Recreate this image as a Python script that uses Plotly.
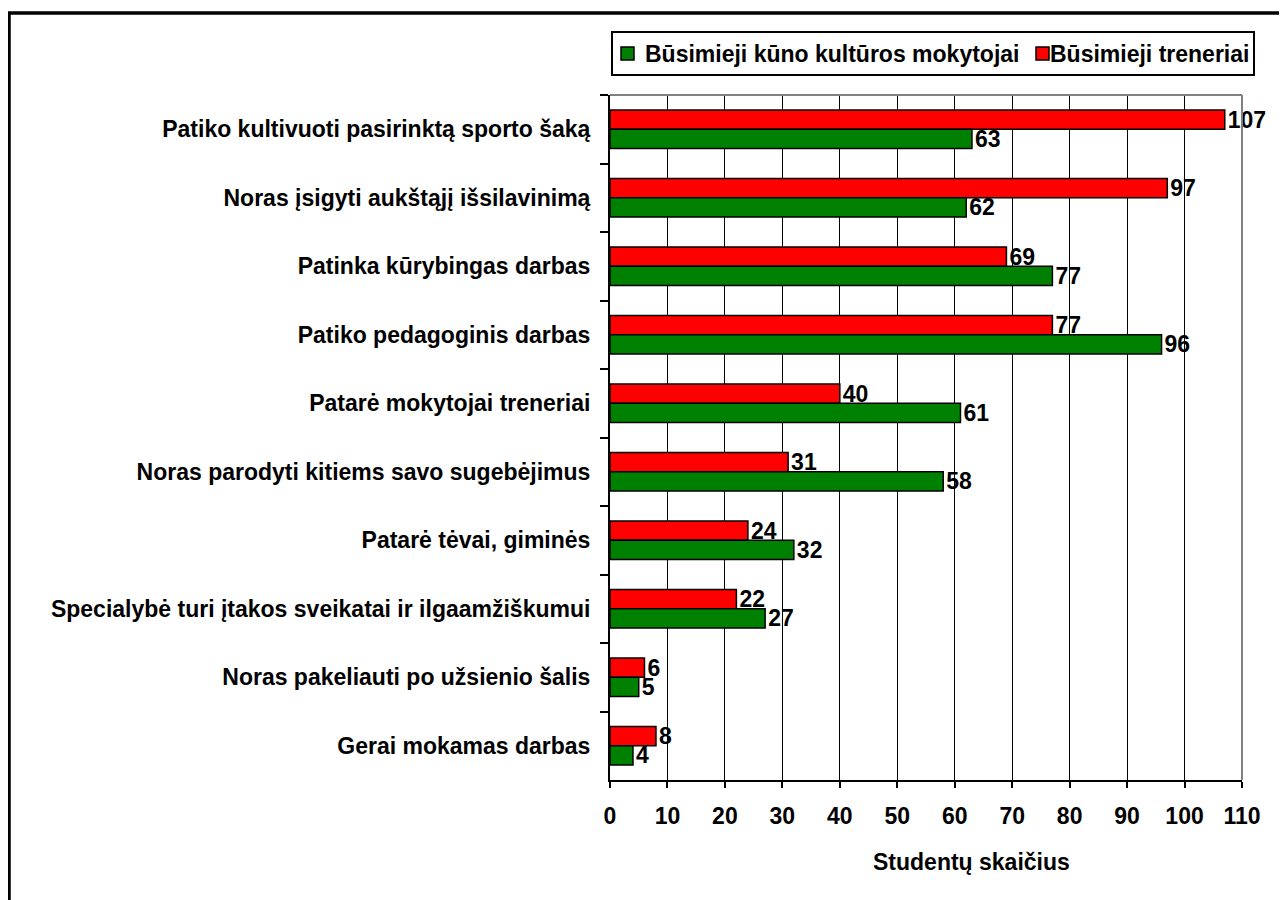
import plotly.graph_objects as go

categories = [
    "Patiko kultivuoti pasirinktą sporto šaką",
    "Noras įsigyti aukštąjį išsilavinimą",
    "Patinka kūrybingas darbas",
    "Patiko pedagoginis darbas",
    "Patarė mokytojai treneriai",
    "Noras parodyti kitiems savo sugebėjimus",
    "Patarė tėvai, giminės",
    "Specialybė turi įtakos sveikatai ir ilgaamžiškumui",
    "Noras pakeliauti po užsienio šalis",
    "Gerai mokamas darbas",
]
treneriai = [107, 97, 69, 77, 40, 31, 24, 22, 6, 8]
mokytojai = [63, 62, 77, 96, 61, 58, 32, 27, 5, 4]
x_ticks = list(range(0, 111, 10))

W, H = 1287, 900
# plot area in figure pixels (page has an 8px body margin)
L, R, T, B = 602, 1234, 87, 772
FONT = "Arial, Liberation Sans, sans-serif"


def px_x(p):
    return (p - L) / (R - L)


def px_y(p):
    return (B - p) / (B - T)


series = [
    ("Būsimieji treneriai", treneriai, "#ff0000"),
    ("Būsimieji kūno kultūros mokytojai", mokytojai, "#008000"),
]

fig = go.Figure()
for name, vals, color in series:
    fig.add_bar(
        y=categories,
        x=vals,
        orientation="h",
        name=name,
        showlegend=False,
        marker=dict(color=color, line=dict(color="black", width=1.5)),
        text=[str(v) for v in vals],
        textposition="outside",
        constraintext="none",
        cliponaxis=False,
        textfont=dict(family=FONT, size=23, color="black", weight="bold"),
    )

fig.update_xaxes(
    range=[0, 110],
    tickvals=x_ticks,
    showgrid=True,
    gridcolor="black",
    gridwidth=1,
    showline=True,
    linecolor="black",
    linewidth=2,
    ticks="outside",
    ticklen=6,
    tickwidth=2,
    tickcolor="black",
    ticklabelstandoff=8,
    tickfont=dict(family=FONT, size=23, color="black", weight="bold"),
    zeroline=False,
)
fig.update_yaxes(
    autorange="reversed",
    showline=True,
    linecolor="black",
    linewidth=2,
    ticks="outside",
    tickson="boundaries",
    ticklen=8,
    tickwidth=2,
    tickcolor="black",
    ticklabelstandoff=13,
    showgrid=False,
    tickfont=dict(family=FONT, size=23, color="black", weight="bold"),
)

# grey plot frame on top and right, outer chart border
fig.add_shape(type="line", xref="paper", yref="paper", x0=0, x1=1, y0=1, y1=1,
              line=dict(color="#808080", width=2), layer="above")
fig.add_shape(type="line", xref="paper", yref="paper", x0=1, x1=1, y0=0, y1=1,
              line=dict(color="#808080", width=2), layer="above")
fig.add_shape(type="rect", xref="paper", yref="paper",
              x0=px_x(1), x1=px_x(W + 20), y0=px_y(H + 20), y1=px_y(5),
              line=dict(color="black", width=3.5))

# legend drawn by hand: boxed, single row, green first
fig.add_shape(type="rect", xref="paper", yref="paper",
              x0=px_x(604), x1=px_x(1246), y0=px_y(67), y1=px_y(24),
              line=dict(color="black", width=2), fillcolor="white")
legend_pos = [(613, 635), (1028, 1040)]  # symbol left, text left
for (name, vals, color), (sx, tx) in zip(series[::-1], legend_pos):
    fig.add_shape(type="rect", xref="paper", yref="paper",
                  x0=px_x(sx), x1=px_x(sx + 13), y0=px_y(52), y1=px_y(39),
                  line=dict(color="black", width=1.5), fillcolor=color)
    fig.add_annotation(
        text=name, xref="paper", yref="paper",
        x=px_x(tx), y=px_y(45.5), xanchor="left", yanchor="middle",
        showarrow=False,
        font=dict(family=FONT, size=23, color="black", weight="bold"),
    )

fig.add_annotation(
    text="Studentų skaičius",
    xref="paper", yref="paper",
    x=px_x(963), y=px_y(869),
    showarrow=False,
    font=dict(family=FONT, size=23, color="black", weight="bold"),
)

fig.update_layout(
    width=W,
    height=H,
    margin=dict(l=L, r=W - R, t=T, b=H - B),
    paper_bgcolor="white",
    plot_bgcolor="white",
    barmode="group",
    bargap=0.44,
    bargroupgap=0,
    font=dict(family=FONT, size=23, color="black"),
)

fig.write_html("out.html")
